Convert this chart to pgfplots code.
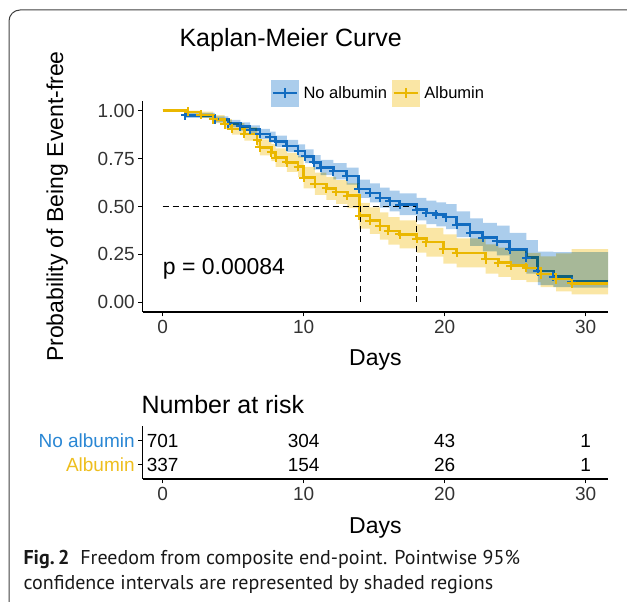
\documentclass[border=0pt]{standalone}
\usepackage{pgfplots}
\pgfplotsset{compat=1.18}
\usepackage{pgfplotstable}
\usepackage{fontspec}
\setmainfont{Liberation Sans}
\newfontfamily\capfont{PT Sans}
\definecolor{bline}{RGB}{18,108,192}
\definecolor{bfill}{RGB}{171,205,236}
\definecolor{yline}{RGB}{234,183,0}
\definecolor{yfill}{RGB}{250,230,165}
\definecolor{blab}{RGB}{42,135,212}
\definecolor{ylab}{RGB}{238,190,30}
\newcommand{\fs}[1]{\fontsize{#1}{#1}\selectfont}

% No albumin: survival steps
\pgfplotstableread{
t s
0 1.000
1.6 0.975
3.7 0.955
4.65 0.932
5.5 0.918
6.2 0.900
6.9 0.878
7.6 0.862
8.0 0.840
8.8 0.815
9.6 0.790
10.1 0.762
10.7 0.730
11.2 0.703
12.1 0.684
13.05 0.658
13.9 0.592
14.7 0.571
15.4 0.545
16.1 0.528
16.8 0.510
18.0 0.484
18.7 0.467
19.4 0.458
20.1 0.445
20.85 0.405
21.8 0.363
22.7 0.337
23.7 0.319
24.6 0.276
25.8 0.233
26.6 0.163
27.7 0.134
29.0 0.108
31.6 0.108
}\noalb

% No albumin: 95% band outline (upper steps forward, lower steps back)
\pgfplotstableread{
t y
0 1.000
1.6 0.988
3.7 0.970
4.65 0.951
5.5 0.939
6.2 0.923
6.9 0.904
7.6 0.890
8.0 0.870
8.8 0.847
9.6 0.824
10.1 0.798
10.7 0.768
11.2 0.743
12.1 0.726
13.05 0.702
13.9 0.640
14.7 0.620
15.4 0.598
16.1 0.583
16.8 0.568
18.0 0.545
18.7 0.530
19.4 0.522
20.1 0.512
20.85 0.475
21.8 0.438
22.7 0.415
23.7 0.400
24.6 0.362
25.8 0.325
26.6 0.265
27.7 0.262
29.0 0.262
31.6 0.262
31.6 0.077
29.0 0.080
27.7 0.090
26.6 0.150
25.8 0.198
24.6 0.245
23.7 0.266
22.7 0.295
21.8 0.340
20.85 0.382
20.1 0.397
19.4 0.408
18.7 0.427
18.0 0.455
16.8 0.475
16.1 0.494
15.4 0.522
14.7 0.545
13.9 0.614
13.05 0.642
12.1 0.663
11.2 0.692
10.7 0.726
10.1 0.756
9.6 0.783
8.8 0.810
8.0 0.834
7.6 0.852
6.9 0.876
6.2 0.896
5.5 0.912
4.65 0.938
3.7 0.962
1.6 1.000
0 1.000
}\noalbband

\pgfplotstableread{
t s
1.6 0.975
3.7 0.955
4.65 0.932
5.5 0.918
6.2 0.900
6.9 0.878
7.6 0.862
8.0 0.840
8.8 0.815
9.6 0.790
10.1 0.762
10.7 0.730
11.2 0.703
12.1 0.684
13.05 0.658
13.9 0.592
14.7 0.571
15.4 0.545
16.1 0.528
16.8 0.510
18.0 0.484
18.7 0.467
19.4 0.458
20.1 0.445
20.85 0.405
21.8 0.363
22.7 0.337
23.7 0.319
24.6 0.276
25.8 0.233
26.6 0.163
27.7 0.134
29.0 0.108
}\noalbm

% Albumin: survival steps
\pgfplotstableread{
t s
0 1.000
1.8 0.993
2.7 0.978
3.6 0.955
4.4 0.930
4.9 0.905
5.8 0.878
6.7 0.845
6.9 0.808
7.7 0.782
8.0 0.755
8.8 0.730
9.6 0.708
10.0 0.650
10.8 0.618
11.6 0.594
12.3 0.576
13.1 0.556
13.95 0.452
14.7 0.426
15.4 0.398
16.0 0.373
16.8 0.355
18.0 0.333
18.7 0.314
19.9 0.278
20.85 0.258
22.9 0.226
23.8 0.208
24.7 0.192
25.8 0.180
26.8 0.148
27.9 0.122
29.0 0.100
31.6 0.100
}\alb

\pgfplotstableread{
t y
0 1.000
1.8 1.000
2.7 0.994
3.6 0.976
4.4 0.956
4.9 0.935
5.8 0.912
6.7 0.884
6.9 0.850
7.7 0.827
8.0 0.803
8.8 0.780
9.6 0.761
10.0 0.706
10.8 0.676
11.6 0.654
12.3 0.638
13.1 0.620
13.95 0.519
14.7 0.495
15.4 0.469
16.0 0.445
16.8 0.428
18.0 0.407
18.7 0.389
19.9 0.354
20.85 0.334
22.9 0.302
23.8 0.285
24.7 0.270
25.8 0.258
26.8 0.240
27.9 0.255
29.0 0.278
31.6 0.278
31.6 0.042
29.0 0.058
27.9 0.080
26.8 0.106
25.8 0.118
24.7 0.133
23.8 0.150
22.9 0.182
20.85 0.202
19.9 0.239
18.7 0.259
18.0 0.282
16.8 0.301
16.0 0.327
15.4 0.357
14.7 0.385
13.95 0.492
13.1 0.514
12.3 0.534
11.6 0.560
10.8 0.594
10.0 0.655
9.6 0.680
8.8 0.707
8.0 0.737
7.7 0.766
6.9 0.806
6.7 0.844
5.8 0.875
4.9 0.904
4.4 0.934
3.6 0.962
2.7 0.984
1.8 1.000
0 1.000
}\albband

\pgfplotstableread{
t s
1.8 0.993
2.7 0.978
3.6 0.955
4.4 0.930
4.9 0.905
5.8 0.878
6.7 0.845
6.9 0.808
7.7 0.782
8.0 0.755
8.8 0.730
9.6 0.708
10.0 0.650
10.8 0.618
11.6 0.594
12.3 0.576
13.1 0.556
13.95 0.452
14.7 0.426
15.4 0.398
16.0 0.373
16.8 0.355
18.0 0.333
18.7 0.314
19.9 0.278
20.85 0.258
22.9 0.226
23.8 0.208
24.7 0.192
25.8 0.180
26.8 0.148
27.9 0.122
29.0 0.100
}\albm

\begin{document}
\begin{tikzpicture}
\useasboundingbox (0,0) rectangle (627pt,602pt);
\draw[line width=1pt, black!75, rounded corners=11pt] (632pt,592pt) -- (9pt,592pt) -- (9pt,-5pt);

\node[anchor=base west, font=\fs{25}] at (176pt,555pt) {Kaplan-Meier Curve};
\node[anchor=base west, font=\fs{25}] at (138pt,188pt) {Number at risk};
\node[anchor=base west, font=\capfont\fs{20}, text=black!90] at (20pt,37pt) {\textbf{Fig.\,2}\hspace{0.55em}Freedom from composite end-point. Pointwise 95\%};
\node[anchor=base west, font=\capfont\fs{20}, text=black!90] at (20pt,12pt) {confidence intervals are represented by shaded regions};

\begin{axis}[
  at={(142.7pt,290pt)}, anchor=south west, scale only axis,
  width=465.3pt, height=211pt,
  xmin=-1.418, xmax=31.58, ymin=-0.05, ymax=1.05,
  axis x line=bottom, axis y line=left,
  axis line style={-, line width=1.2pt, black},
  xtick={0,10,20,30}, ytick={0,0.25,0.5,0.75,1},
  yticklabels={0.00,0.25,0.50,0.75,1.00},
  tick align=outside, major tick length=4.5pt,
  tick style={line width=1.2pt, black},
  ticklabel style={font=\fs{19}, text=black!80},
  /pgf/number format/assume math mode=true,
  xlabel={Days}, ylabel={Probability of Being Event-free},
  every axis x label/.style={at={(axis description cs:0.5,-0.227)}, anchor=center, font=\fs{23}},
  every axis y label/.style={at={(axis description cs:-0.184,0.5)}, rotate=90, anchor=center, font=\fs{23}},
  legend style={draw=none, fill=none, at={(axis description cs:0.507,1.038)}, anchor=center,
     legend columns=2, font=\fs{16.5},
     /tikz/every odd column/.append style={column sep=3pt},
     /tikz/every even column/.append style={column sep=3pt}},
]
\addplot[const plot, fill=bfill, draw=none, forget plot] table[x=t,y=y]{\noalbband};
\addplot[bline, line width=2.6pt, const plot, forget plot] table[x=t,y=s]{\noalb};
\addplot[bline, only marks, mark=+, mark size=4.5pt, mark options={line width=2pt}, forget plot] table[x=t,y=s]{\noalbm};

\addplot[const plot, fill=yfill, draw=none, blend mode=multiply, forget plot] table[x=t,y=y]{\albband};
\addplot[yline, line width=2.6pt, const plot, forget plot] table[x=t,y=s]{\alb};
\addplot[yline, only marks, mark=+, mark size=4.5pt, mark options={line width=2pt}, forget plot] table[x=t,y=s]{\albm};

\addplot[black, line width=1.2pt, dash pattern=on 6pt off 4pt, forget plot] coordinates {(0,0.5) (18,0.5)};
\addplot[black, line width=1.2pt, dash pattern=on 6pt off 4pt, forget plot] coordinates {(14.05,0.5) (14.05,0)};
\addplot[black, line width=1.2pt, dash pattern=on 6pt off 4pt, forget plot] coordinates {(18,0.5) (18,0)};

\node[anchor=base west, font=\fs{23}, inner sep=0pt] at (axis cs:0,0.146) {p = 0.00084};

\addlegendimage{legend image code/.code={
  \fill[bfill] (0pt,-13pt) rectangle (27pt,13pt);
  \draw[bline,line width=2.4pt] (1.5pt,0pt)--(25.5pt,0pt);
  \draw[bline,line width=2pt] (13.5pt,-5pt)--(13.5pt,5pt);}}
\addlegendentry{No albumin}
\addlegendimage{legend image code/.code={
  \fill[yfill] (0pt,-13pt) rectangle (27pt,13pt);
  \draw[yline,line width=2.4pt] (1.5pt,0pt)--(25.5pt,0pt);
  \draw[yline,line width=2pt] (13.5pt,-5pt)--(13.5pt,5pt);}}
\addlegendentry{Albumin}
\end{axis}

\begin{axis}[
  at={(142.7pt,123pt)}, anchor=south west, scale only axis,
  width=465.3pt, height=52.8pt,
  xmin=-1.418, xmax=31.58, ymin=0.4, ymax=2.6,
  axis x line=bottom, axis y line=left,
  axis line style={-, line width=1.2pt, black},
  xtick={0,10,20,30}, ytick={1,2},
  yticklabels={\textcolor{ylab}{Albumin},\textcolor{blab}{No albumin}},
  tick align=outside, major tick length=4.5pt,
  tick style={line width=1.2pt, black},
  ticklabel style={font=\fs{19}, text=black!80},
  /pgf/number format/assume math mode=true,
  xlabel={Days},
  every axis x label/.style={at={(axis description cs:0.5,-0.928)}, anchor=center, font=\fs{23}},
]
\addplot[draw=none, nodes near coords, point meta=explicit symbolic,
  every node near coord/.append style={anchor=center, font=\fs{19}, text=black}]
  table[x=t, y=r, meta=n] {
t r n
0 2 701
10 2 304
20 2 43
30 2 1
0 1 337
10 1 154
20 1 26
30 1 1
};
\end{axis}
\end{tikzpicture}
\end{document}
